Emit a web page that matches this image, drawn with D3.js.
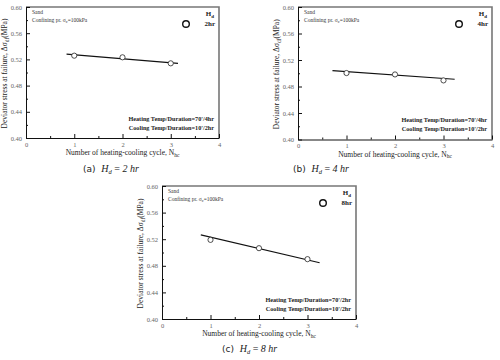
<!DOCTYPE html>
<html>
<head>
<meta charset="utf-8">
<script src="https://cdn.jsdelivr.net/npm/d3@7"></script>
<style>
  body { margin: 0; background: #fff; }
  svg { display: block; }
  svg text { font-family: "Liberation Serif", "Times New Roman", Times, "DejaVu Serif", serif; }
</style>
</head>
<body>
<script>
// Data
const cycles = [1, 2, 3];
const stress2hr = [0.5257, 0.5232, 0.514];
const stress4hr = [0.5003, 0.4982, 0.4892];
const stress8hr = [0.519, 0.5065, 0.490];
// trend line end points [cycle, stress]
const trend2hr = [[0.84, 0.528], [3.15, 0.514]];
const trend4hr = [[0.71, 0.504], [3.23, 0.491]];
const trend8hr = [[0.80, 0.5265], [3.25, 0.4846]];
const xTicks = [0, 1, 2, 3, 4];
const yTicks = [0.40, 0.44, 0.48, 0.52, 0.56, 0.60];

const panels = [
  {box: {l: 26, r: 219, t: 7, b: 138}, values: stress2hr, trend: trend2hr,
   tag: "(a)", hd: "2", heat: "Heating Temp/Duration=70'/4hr", cool: "Cooling Temp/Duration=10'/2hr", capX: 83, capY: 172},
  {box: {l: 298, r: 492, t: 7, b: 139.5}, values: stress4hr, trend: trend4hr,
   tag: "(b)", hd: "4", heat: "Heating Temp/Duration=70'/4hr", cool: "Cooling Temp/Duration=10'/2hr", capX: 293, capY: 172},
  {box: {l: 162, r: 356, t: 186, b: 319}, values: stress8hr, trend: trend8hr,
   tag: "(c)", hd: "8", heat: "Heating Temp/Duration=70'/2hr", cool: "Cooling Temp/Duration=10'/2hr", capX: 222, capY: 352}
];

const svg = d3.select("body")
  .append("svg")
  .attr("width", 500)
  .attr("height", 360);

panels.forEach(p => {
  const b = p.box;
  const x = d3.scaleLinear().domain([0, 4]).range([b.l, b.r]);
  const y = d3.scaleLinear().domain([0.40, 0.60]).range([b.b, b.t]);
  const g = svg.append("g");

  // frame: top and right in grey
  g.append("path")
    .attr("d", `M${b.l},${b.t}H${b.r}V${b.b}`)
    .attr("fill", "none")
    .attr("stroke", "#777")
    .attr("stroke-width", 1.6);

  // bottom axis
  g.append("g")
    .attr("transform", `translate(0,${b.b})`)
    .call(d3.axisBottom(x).tickValues(xTicks).tickFormat(d3.format("d")).tickSizeInner(-4).tickSizeOuter(0).tickPadding(4));
  g.append("g")
    .attr("transform", `translate(0,${b.b})`)
    .call(d3.axisBottom(x).tickValues([0.5, 1.5, 2.5, 3.5]).tickFormat("").tickSizeInner(-2).tickSizeOuter(0))
    .select(".domain").remove();

  // left axis
  g.append("g")
    .attr("transform", `translate(${b.l},0)`)
    .call(d3.axisLeft(y).tickValues(yTicks).tickFormat(d3.format(".2f")).tickSizeInner(-4).tickSizeOuter(0).tickPadding(4));
  g.append("g")
    .attr("transform", `translate(${b.l},0)`)
    .call(d3.axisLeft(y).tickValues([0.42, 0.46, 0.50, 0.54, 0.58]).tickFormat("").tickSizeInner(-2).tickSizeOuter(0))
    .select(".domain").remove();

  g.selectAll(".domain").attr("stroke", "#111").attr("stroke-width", 1);
  g.selectAll(".tick line").attr("stroke", "#111").attr("stroke-width", 1);
  g.selectAll("g.tick text")
    .attr("font-size", 6.5)
    .attr("fill", "#666");
  g.selectAll("g[font-family]").attr("font-family", null);

  // axis titles
  const xt = g.append("text")
    .attr("x", (b.l + b.r) / 2)
    .attr("y", b.b + 17)
    .attr("text-anchor", "middle")
    .attr("font-size", 7.5)
    .attr("fill", "#222")
    .text("Number of heating-cooling cycle, N");
  xt.append("tspan").attr("font-size", 5.5).attr("dy", 1.5).text("hc");

  const yt = g.append("text")
    .attr("transform", `translate(${b.l - 19},${(b.t + b.b) / 2 + 1}) rotate(-90)`)
    .attr("text-anchor", "middle")
    .attr("font-size", 7.5)
    .attr("fill", "#222")
    .text("Deviator stress at failure, \u0394\u03c3");
  yt.append("tspan").attr("font-size", 5.5).attr("dy", 1.5).text("df");
  yt.append("tspan").attr("dy", -1.5).text("(MPa)");

  // trend line
  g.append("path")
    .datum(p.trend)
    .attr("fill", "none")
    .attr("stroke", "#111")
    .attr("stroke-width", 1.1)
    .attr("d", d3.line().x(d => x(d[0])).y(d => y(d[1])));

  // points
  g.selectAll("circle.pt")
    .data(cycles.map((c, i) => [c, p.values[i]]))
    .join("circle")
    .attr("class", "pt")
    .attr("cx", d => x(d[0]))
    .attr("cy", d => y(d[1]))
    .attr("r", 2.6)
    .attr("fill", "#fff")
    .attr("stroke", "#222")
    .attr("stroke-width", 0.8);

  // top-left notes
  g.append("text")
    .attr("x", b.l + 6).attr("y", b.t + 7)
    .attr("font-size", 5.5).attr("fill", "#333")
    .text("Sand");
  const cp = g.append("text")
    .attr("x", b.l + 6).attr("y", b.t + 15)
    .attr("font-size", 5.5).attr("fill", "#333")
    .text("Confining pr. \u03c3");
  cp.append("tspan").attr("font-size", 4.5).attr("dy", 1).text("c");
  cp.append("tspan").attr("dy", -1).text("=100kPa");

  // legend
  g.append("circle")
    .attr("cx", b.r - 33).attr("cy", b.t + 17)
    .attr("r", 3.3)
    .attr("fill", "#fff").attr("stroke", "#111").attr("stroke-width", 1.4);
  const hd = g.append("text")
    .attr("x", b.r - 5).attr("y", b.t + 9)
    .attr("text-anchor", "end")
    .attr("font-size", 7).attr("font-weight", "bold").attr("fill", "#222")
    .text("H");
  hd.append("tspan").attr("font-size", 5).attr("dy", 1.5).text("d");
  g.append("text")
    .attr("x", b.r - 4).attr("y", b.t + 19)
    .attr("text-anchor", "end")
    .attr("font-size", 7).attr("font-weight", "bold").attr("fill", "#222")
    .text(p.hd + "hr");

  // bottom-right notes
  g.append("text")
    .attr("x", b.r - 5).attr("y", b.b - 17.5)
    .attr("text-anchor", "end")
    .attr("font-size", 6.2).attr("font-weight", "bold").attr("fill", "#222")
    .text(p.heat);
  g.append("text")
    .attr("x", b.r - 5).attr("y", b.b - 8.5)
    .attr("text-anchor", "end")
    .attr("font-size", 6.2).attr("font-weight", "bold").attr("fill", "#222")
    .text(p.cool);

  // caption
  const cap = svg.append("text")
    .attr("x", p.capX).attr("y", p.capY)
    .attr("font-size", 10).attr("fill", "#222");
  cap.append("tspan").attr("font-family", "DejaVu Sans, sans-serif").attr("font-size", 9).text(p.tag + "\u00a0\u00a0");
  cap.append("tspan").attr("font-style", "italic").text("H");
  cap.append("tspan").attr("font-style", "italic").attr("font-size", 6.5).attr("dy", 2).text("d");
  cap.append("tspan").attr("dy", -2).text("\u00a0= ");
  cap.append("tspan").attr("font-style", "italic").text(p.hd + "\u00a0hr");
});
</script>
</body>
</html>
